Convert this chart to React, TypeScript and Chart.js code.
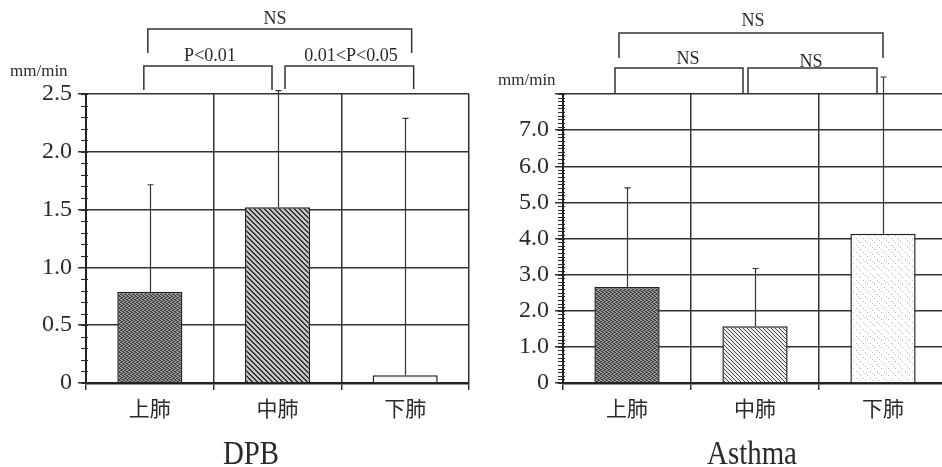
import React, { useEffect, useRef } from 'react';
import { Chart, registerables } from 'chart.js';
Chart.register(...registerables);

// ---------- data ----------
const categories = ['上肺', '中肺', '下肺'];

const dpbMeans = [0.79, 1.52, 0.066];
const dpbErrTops = [1.715, 2.53, 2.29];

const asthmaMeans = [2.66, 1.57, 4.13];
const asthmaErrTops = [5.4, 3.17, 8.47];

const dpbTitle = 'DPB';
const asthmaTitle = 'Asthma';
const unitLabel = 'mm/min';

const dpbComparisons = [
  { from: 0, to: 2, label: 'NS' },
  { from: 0, to: 1, label: 'P<0.01' },
  { from: 1, to: 2, label: '0.01<P<0.05' },
];
const asthmaComparisons = [
  { from: 0, to: 2, label: 'NS' },
  { from: 0, to: 1, label: 'NS' },
  { from: 1, to: 2, label: 'NS' },
];

// ---------- layout / style (pixels) ----------
const dpbBracketLayout = [
  { dx1: -2, dx2: 6.5, top: 29, leg1: 53, leg2: 53, lx: 275, ly: 19 },
  { dx1: -6, dx2: -5.5, top: 66, leg1: 90, leg2: 90, lx: 210, ly: 56 },
  { dx1: 7.5, dx2: 8.5, top: 66, leg1: 89, leg2: 89, lx: 351, ly: 56 },
];
const asthmaBracketLayout = [
  { dx1: -8, dx2: 0, top: 33, leg1: 58, leg2: 58, lx: 282, ly: 21 },
  { dx1: -12, dx2: -12, top: 68, leg1: 94, leg2: 94, lx: 217, ly: 59 },
  { dx1: -7, dx2: -6, top: 68, leg1: 94, leg2: 94, lx: 340, ly: 62 },
];

function makePattern(kind: string): CanvasPattern | string {
  const c = document.createElement('canvas');
  const ctx = c.getContext('2d');
  if (!ctx) return '#888';
  if (kind === 'stipple') {
    c.width = 4; c.height = 4;
    ctx.fillStyle = '#9c9c9c'; ctx.fillRect(0, 0, 4, 4);
    ctx.fillStyle = '#404040';
    [[0, 0], [2, 1], [1, 2], [3, 3], [2, 3], [0, 2], [3, 0], [1, 1]].forEach(([x, y]) => ctx.fillRect(x, y, 1, 1));
  } else if (kind === 'hatchDark') {
    c.width = 5; c.height = 5;
    ctx.fillStyle = '#c4c4c4'; ctx.fillRect(0, 0, 5, 5);
    ctx.fillStyle = '#333';
    for (let i = 0; i < 5; i++) { ctx.fillRect(i, i, 1, 1); ctx.fillRect((i + 1) % 5, i, 1, 1); }
  } else if (kind === 'hatchLight') {
    c.width = 4; c.height = 4;
    ctx.fillStyle = '#eeeeee'; ctx.fillRect(0, 0, 4, 4);
    ctx.fillStyle = '#444';
    for (let i = 0; i < 4; i++) ctx.fillRect(i, i, 1, 1);
  } else if (kind === 'sparse') {
    c.width = 7; c.height = 7;
    ctx.fillStyle = '#ffffff'; ctx.fillRect(0, 0, 7, 7);
    ctx.fillStyle = '#b8b8b8';
    ctx.fillRect(0, 0, 1, 1); ctx.fillRect(2, 2, 1, 1); ctx.fillRect(4, 4, 1, 1);
  } else {
    c.width = 2; c.height = 2;
    ctx.fillStyle = '#f6f6f6'; ctx.fillRect(0, 0, 2, 2);
  }
  return ctx.createPattern(c, 'repeat') || '#888';
}

type Cfg = {
  means: number[];
  errTops: number[];
  max: number;
  step: number;
  hideTop: boolean;
  fills: string[];
  comparisons: { from: number; to: number; label: string }[];
  layout: { dx1: number; dx2: number; top: number; leg1: number; leg2: number; lx: number; ly: number }[];
  title: string;
  titleX: number;
  unitX: number;
  unitY: number;
  axisWidth: number;
  padRight: number;
};

function buildChart(canvas: HTMLCanvasElement, cfg: Cfg) {
  const ink = '#2a2a2a';
  const overlay = {
    id: 'overlay',
    afterDraw(chart: any) {
      const ctx = chart.ctx as CanvasRenderingContext2D;
      const xs = chart.scales.x;
      const ys = chart.scales.y;
      const area = chart.chartArea;
      ctx.save();
      // minor ticks
      ctx.strokeStyle = ink;
      ctx.lineWidth = 1;
      const n = Math.round(cfg.max / 0.1);
      for (let k = 0; k <= n; k++) {
        const y = Math.round(ys.getPixelForValue(k * 0.1)) + 0.5;
        ctx.beginPath();
        ctx.moveTo(area.left - 5, y);
        ctx.lineTo(area.left + 2, y);
        ctx.stroke();
      }
      // error bars
      ctx.strokeStyle = '#333';
      ctx.lineWidth = 1.2;
      cfg.means.forEach((m, i) => {
        const x = Math.round(xs.getPixelForValue(i)) + 0.5;
        const y0 = ys.getPixelForValue(m);
        const y1 = ys.getPixelForValue(cfg.errTops[i]);
        ctx.beginPath();
        ctx.moveTo(x, y0);
        ctx.lineTo(x, y1);
        ctx.moveTo(x - 3, y1);
        ctx.lineTo(x + 3, y1);
        ctx.stroke();
      });
      // brackets
      ctx.strokeStyle = '#333';
      ctx.lineWidth = 1.5;
      ctx.fillStyle = ink;
      ctx.textAlign = 'center';
      ctx.textBaseline = 'middle';
      cfg.comparisons.forEach((c, i) => {
        const l = cfg.layout[i];
        const x1 = xs.getPixelForValue(c.from) + l.dx1;
        const x2 = xs.getPixelForValue(c.to) + l.dx2;
        ctx.beginPath();
        ctx.moveTo(x1, l.leg1);
        ctx.lineTo(x1, l.top);
        ctx.lineTo(x2, l.top);
        ctx.lineTo(x2, l.leg2);
        ctx.stroke();
        ctx.font = '19px "Liberation Serif"';
        ctx.save();
        ctx.translate(l.lx, l.ly);
        ctx.scale(0.95, 1);
        ctx.fillText(c.label, 0, 0);
        ctx.restore();
      });
      // unit label
      ctx.textAlign = 'left';
      ctx.textBaseline = 'alphabetic';
      ctx.font = '17px "Liberation Serif"';
      ctx.fillText(unitLabel, cfg.unitX, cfg.unitY);
      // title
      ctx.textAlign = 'center';
      ctx.textBaseline = 'middle';
      ctx.font = '34px "Liberation Serif"';
      ctx.save();
      ctx.translate(cfg.titleX, 455);
      ctx.scale(0.85, 1);
      ctx.fillText(cfg.title, 0, 0);
      ctx.restore();
      ctx.restore();
    },
  };

  return new Chart(canvas, {
    type: 'bar',
    data: {
      labels: categories,
      datasets: [
        {
          data: cfg.means,
          backgroundColor: cfg.fills.map(makePattern) as any,
          borderColor: '#222',
          borderWidth: 1.5,
          borderSkipped: 'bottom',
          categoryPercentage: 1,
          barPercentage: 0.51,
        },
      ],
    },
    options: {
      responsive: false,
      animation: false,
      layout: { padding: { top: 94, right: cfg.padRight, left: 0, bottom: 0 } },
      plugins: { legend: { display: false }, tooltip: { enabled: false }, title: { display: false } },
      scales: {
        x: {
          offset: true,
          grid: { offset: true, color: '#333', lineWidth: 1.5, tickLength: 7, drawTicks: true },
          border: { color: '#222', width: 2.5 },
          ticks: { font: { family: '"Noto Sans CJK JP"', size: 21 }, color: ink, padding: 5 },
          afterFit: (s: any) => { s.height = 84; },
        },
        y: {
          min: 0,
          max: cfg.max,
          grid: { color: '#333', lineWidth: 1.5, tickLength: 8, drawTicks: true },
          border: { color: '#222', width: 2 },
          ticks: {
            stepSize: cfg.step,
            font: { family: '"Liberation Serif"', size: 24 },
            color: ink,
            padding: 6,
            callback: (v: any) => {
              const n = Number(v);
              if (cfg.hideTop && Math.abs(n - cfg.max) < 1e-6) return '';
              if (n === 0) return '0';
              return n.toFixed(1);
            },
          },
          afterFit: (s: any) => { s.width = cfg.axisWidth; },
        },
      },
    },
    plugins: [overlay],
  });
}

export default function App() {
  const leftRef = useRef<HTMLCanvasElement>(null);
  const rightRef = useRef<HTMLCanvasElement>(null);

  useEffect(() => {
    if (!leftRef.current || !rightRef.current) return;
    const a = buildChart(leftRef.current, {
      means: dpbMeans,
      errTops: dpbErrTops,
      max: 2.5,
      step: 0.5,
      hideTop: false,
      fills: ['stipple', 'hatchDark', 'plain'],
      comparisons: dpbComparisons,
      layout: dpbBracketLayout,
      title: dpbTitle,
      titleX: 251,
      unitX: 10,
      unitY: 76,
      axisWidth: 86,
      padRight: 2,
    });
    const b = buildChart(rightRef.current, {
      means: asthmaMeans,
      errTops: asthmaErrTops,
      max: 8,
      step: 1,
      hideTop: true,
      fills: ['stipple', 'hatchLight', 'sparse'],
      comparisons: asthmaComparisons,
      layout: asthmaBracketLayout,
      title: asthmaTitle,
      titleX: 281,
      unitX: 27,
      unitY: 85,
      axisWidth: 92,
      padRight: 4,
    });
    return () => { a.destroy(); b.destroy(); };
  }, []);

  return (
    <div style={{ position: 'fixed', left: 0, top: 0, width: 942, height: 467, overflow: 'hidden', background: '#fff' }}>
      <canvas ref={leftRef} width={471} height={467} style={{ position: 'absolute', left: 0, top: 0, width: 471, height: 467 }} />
      <canvas ref={rightRef} width={480} height={467} style={{ position: 'absolute', left: 471, top: 0, width: 480, height: 467 }} />
    </div>
  );
}
